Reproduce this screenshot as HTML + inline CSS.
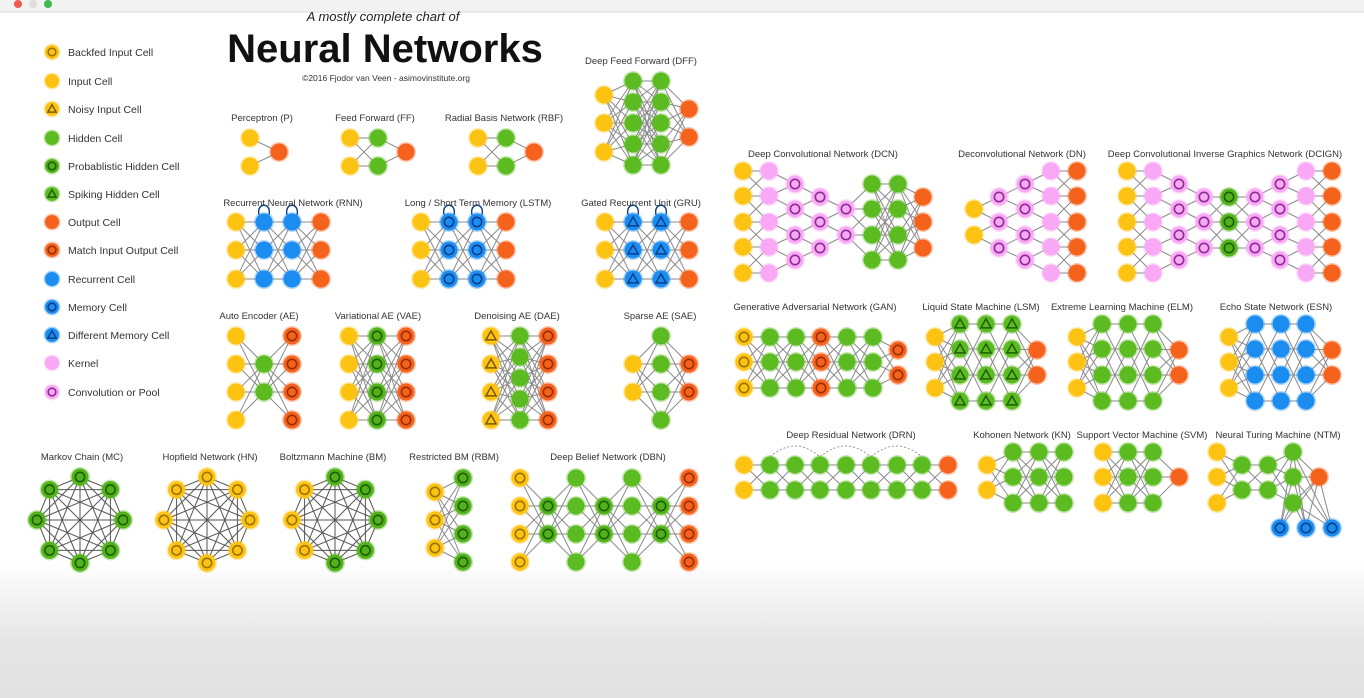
<!DOCTYPE html>
<html><head><meta charset="utf-8">
<style>
html,body{margin:0;padding:0;width:1364px;height:698px;overflow:hidden;background:#fff;font-family:"Liberation Sans",sans-serif;}
#bg{position:absolute;left:0;top:0;width:1364px;height:698px;background:linear-gradient(#fff 0,#fff 560px,#e6e6e6 640px,#e2e2e2 698px);}
svg{position:absolute;left:0;top:0;}
</style></head><body>
<div id="bg"></div>
<svg id="chart" width="1364" height="698">
<rect x="0" y="0" width="1364" height="12" fill="#f2f2f2"/>
<line x1="0" y1="12" x2="1364" y2="12" stroke="#d8d8d8"/>
<circle cx="18" cy="4" r="4" fill="#ee5a52"/>
<circle cx="33" cy="4" r="4" fill="#ddd"/>
<circle cx="48" cy="4" r="4" fill="#3fb94f"/>
<text x="383" y="21" text-anchor="middle" font-size="13" font-style="italic" fill="#222">A mostly complete chart of</text>
<text x="385" y="62" text-anchor="middle" font-size="40" font-weight="bold" fill="#111">Neural Networks</text>
<text x="386" y="81" text-anchor="middle" font-size="8.5" fill="#333">©2016 Fjodor van Veen - asimovinstitute.org</text>
<g id="edges"></g><g id="nodes"></g><g id="labels"></g>
</svg>
<script>
// legend data
const legendTypes = ['bin','in','nin','hid','phid','shid','out','mout','rec','mem','dmem','ker','conv'];
const legendNames = ['Backfed Input Cell','Input Cell','Noisy Input Cell','Hidden Cell','Probablistic Hidden Cell','Spiking Hidden Cell','Output Cell','Match Input Output Cell','Recurrent Cell','Memory Cell','Different Memory Cell','Kernel','Convolution or Pool'];
const legendYs = [52,81,109,138,166,194,222,250,279,307,335,363,392];

// networks: name, label position, layers [x, cellType, ys]
const networks = [
 {n:'Perceptron (P)',lx:262,ly:121,L:[[250,'in',[138,166]],[279,'out',[152]]]},
 {n:'Feed Forward (FF)',lx:375,ly:121,L:[[350,'in',[138,166]],[378,'hid',[138,166]],[406,'out',[152]]]},
 {n:'Radial Basis Network (RBF)',lx:504,ly:121,L:[[478,'in',[138,166]],[506,'hid',[138,166]],[534,'out',[152]]]},
 {n:'Deep Feed Forward (DFF)',lx:641,ly:64,L:[[604,'in',[95,123,152]],[633,'hid',[81,102,123,144,165]],[661,'hid',[81,102,123,144,165]],[689,'out',[109,137]]]},
 {n:'Recurrent Neural Network (RNN)',lx:293,ly:206,loop:1,L:[[236,'in',[222,250,279]],[264,'rec',[222,250,279]],[292,'rec',[222,250,279]],[321,'out',[222,250,279]]]},
 {n:'Long / Short Term Memory (LSTM)',lx:478,ly:206,loop:1,L:[[421,'in',[222,250,279]],[449,'mem',[222,250,279]],[477,'mem',[222,250,279]],[506,'out',[222,250,279]]]},
 {n:'Gated Recurrent Unit (GRU)',lx:641,ly:206,loop:1,L:[[605,'in',[222,250,279]],[633,'dmem',[222,250,279]],[661,'dmem',[222,250,279]],[689,'out',[222,250,279]]]},
 {n:'Auto Encoder (AE)',lx:259,ly:319,L:[[236,'in',[336,364,392,420]],[264,'hid',[364,392]],[292,'mout',[336,364,392,420]]]},
 {n:'Variational AE (VAE)',lx:378,ly:319,L:[[349,'in',[336,364,392,420]],[377,'phid',[336,364,392,420]],[406,'mout',[336,364,392,420]]]},
 {n:'Denoising AE (DAE)',lx:517,ly:319,L:[[491,'nin',[336,364,392,420]],[520,'hid',[336,357,378,399,420]],[548,'mout',[336,364,392,420]]]},
 {n:'Sparse AE (SAE)',lx:660,ly:319,L:[[633,'in',[364,392]],[661,'hid',[336,364,392,420]],[689,'mout',[364,392]]]},
 {n:'Restricted BM (RBM)',lx:454,ly:460,L:[[435,'bin',[492,520,548]],[463,'phid',[478,506,534,562]]]},
 {n:'Deep Belief Network (DBN)',lx:608,ly:460,L:[[520,'bin',[478,506,534,562]],[548,'phid',[506,534]],[576,'hid',[478,506,534,562]],[604,'phid',[506,534]],[632,'hid',[478,506,534,562]],[661,'phid',[506,534]],[689,'mout',[478,506,534,562]]]},
 {n:'Deep Convolutional Network (DCN)',lx:823,ly:157,L:[[743,'in',[171,196,222,247,273]],[769,'ker',[171,196,222,247,273]],[795,'conv',[184,209,235,260]],[820,'conv',[197,222,248]],[846,'conv',[209,235]],[872,'hid',[184,209,235,260]],[898,'hid',[184,209,235,260]],[923,'out',[197,222,248]]]},
 {n:'Deconvolutional Network (DN)',lx:1022,ly:157,L:[[974,'in',[209,235]],[999,'conv',[197,222,248]],[1025,'conv',[184,209,235,260]],[1051,'ker',[171,196,222,247,273]],[1077,'out',[171,196,222,247,273]]]},
 {n:'Deep Convolutional Inverse Graphics Network (DCIGN)',lx:1225,ly:157,L:[[1127,'in',[171,196,222,247,273]],[1153,'ker',[171,196,222,247,273]],[1179,'conv',[184,209,235,260]],[1204,'conv',[197,222,248]],[1229,'phid',[197,222,248]],[1255,'conv',[197,222,248]],[1280,'conv',[184,209,235,260]],[1306,'ker',[171,196,222,247,273]],[1332,'out',[171,196,222,247,273]]]},
 {n:'Generative Adversarial Network (GAN)',lx:815,ly:310,L:[[744,'bin',[337,362,388]],[770,'hid',[337,362,388]],[796,'hid',[337,362,388]],[821,'mout',[337,362,388]],[847,'hid',[337,362,388]],[873,'hid',[337,362,388]],[898,'mout',[350,375]]]},
 {n:'Liquid State Machine (LSM)',lx:981,ly:310,sparse:1,L:[[935,'in',[337,362,388]],[960,'shid',[324,349,375,401]],[986,'shid',[324,349,375,401]],[1012,'shid',[324,349,375,401]],[1037,'out',[350,375]]]},
 {n:'Extreme Learning Machine (ELM)',lx:1122,ly:310,sparse:1,L:[[1077,'in',[337,362,388]],[1102,'hid',[324,349,375,401]],[1128,'hid',[324,349,375,401]],[1153,'hid',[324,349,375,401]],[1179,'out',[350,375]]]},
 {n:'Echo State Network (ESN)',lx:1276,ly:310,sparse:1,L:[[1229,'in',[337,362,388]],[1255,'rec',[324,349,375,401]],[1281,'rec',[324,349,375,401]],[1306,'rec',[324,349,375,401]],[1332,'out',[350,375]]]},
 {n:'Deep Residual Network (DRN)',lx:851,ly:438,res:1,L:[[744,'in',[465,490]],[770,'hid',[465,490]],[795,'hid',[465,490]],[820,'hid',[465,490]],[846,'hid',[465,490]],[871,'hid',[465,490]],[897,'hid',[465,490]],[922,'hid',[465,490]],[948,'out',[465,490]]]},
 {n:'Kohonen Network (KN)',lx:1022,ly:438,L:[[987,'in',[465,490]],[1013,'hid',[452,477,503]],[1039,'hid',[452,477,503]],[1064,'hid',[452,477,503]]]},
 {n:'Support Vector Machine (SVM)',lx:1142,ly:438,L:[[1103,'in',[452,477,503]],[1128,'hid',[452,477,503]],[1153,'hid',[452,477,503]],[1179,'out',[477]]]},
 {n:'Neural Turing Machine (NTM)',lx:1278,ly:438,L:[[1217,'in',[452,477,503]],[1242,'hid',[465,490]],[1268,'hid',[465,490]],[1293,'hid',[452,477,503]],[1319,'out',[477]]]}
];
// ring networks: name, label, center, cell types around (starting at top, clockwise)
const rings = [
 {n:'Markov Chain (MC)',lx:82,ly:460,cx:80,cy:520,t:['phid','phid','phid','phid','phid','phid','phid','phid']},
 {n:'Hopfield Network (HN)',lx:210,ly:460,cx:207,cy:520,t:['bin','bin','bin','bin','bin','bin','bin','bin']},
 {n:'Boltzmann Machine (BM)',lx:333,ly:460,cx:335,cy:520,t:['phid','phid','phid','phid','phid','bin','bin','bin']}
];
const ntmMemX = [1280,1306,1332];

const NS='http://www.w3.org/2000/svg';
const E=document.getElementById('edges'),N=document.getElementById('nodes'),T=document.getElementById('labels');
const COL={in:'#fdc313',bin:'#fdc313',nin:'#fdc313',hid:'#5cbb20',phid:'#52b21a',shid:'#5cbb20',out:'#f4621c',mout:'#f4621c',rec:'#1b8df0',mem:'#1b8df0',dmem:'#1b8df0',ker:'#f8a8f4',conv:'#f8a8f4'};
const RING={bin:'#9a7400',phid:'#1f5e08',mout:'#9b2e00',mem:'#0a3f8a',conv:'#8a2c94'};
const TRI={nin:'#7a5a00',shid:'#1f5e08',dmem:'#0a3f8a'};
function mk(tag,at,parent){const e=document.createElementNS(NS,tag);for(const k in at)e.setAttribute(k,at[k]);parent.appendChild(e);return e;}
function edge(x1,y1,x2,y2,c){const l=mk('line',{x1:x1,y1:y1,x2:x2,y2:y2,stroke:c||'#8a8a8a','stroke-width':1},E);

}
function node(x,y,t,r){r=r||8.5;const g=mk('g',{},N);


mk('circle',{cx:x,cy:y,r:r+1.5,fill:COL[t],opacity:0.35},g);
mk('circle',{cx:x,cy:y,r:r,fill:COL[t]},g);
if(RING[t])mk('circle',{cx:x,cy:y,r:r*0.55,fill:'none',stroke:RING[t],'stroke-width':1.6},g);
if(TRI[t]){const s=r*0.6;mk('polygon',{points:`${x},${y-s} ${x+s},${y+s*0.75} ${x-s},${y+s*0.75}`,fill:'none',stroke:TRI[t],'stroke-width':1.5},g);}
}
function label(x,y,s,name){const t=mk('text',{x:x,y:y,'text-anchor':'middle','font-size':9.5,fill:'#333'},T);t.textContent=s;

}

// legend
legendTypes.forEach((t,i)=>{node(52,legendYs[i],t,7);
const tx=mk('text',{x:68,y:legendYs[i]+4,'font-size':10.5,fill:'#333'},T);tx.textContent=legendNames[i];

});

networks.forEach(nw=>{
 label(nw.lx,nw.ly,nw.n,'network-label');
 const L=nw.L;
 for(let i=0;i<L.length-1;i++){
  const a=L[i],b=L[i+1];
  const local=['ker','conv'].includes(a[1])||['ker','conv'].includes(b[1]);
  a[2].forEach((y1,j)=>b[2].forEach((y2,k)=>{
   if(local&&Math.abs(y1-y2)>30)return;
   if(nw.sparse&&i>0&&i<L.length-2&&((j+k)%2===1))return;
   if(nw.res&&Math.abs(y1-y2)>30)return;
   edge(a[0],y1,b[0],y2);
  }));
 }
 if(nw.res){for(let i=1;i+2<L.length;i+=2){const x1=L[i][0],x2=L[i+2][0],y=L[i][2][0];
  const p=mk('path',{d:`M${x1},${y-8} Q${(x1+x2)/2},${y-30} ${x2},${y-8}`,fill:'none',stroke:'#999','stroke-dasharray':'2,2'},E);
  
  }}
 if(nw.n.indexOf('NTM')>=0){const h=L[3];ntmMemX.forEach(mx=>{h[2].forEach(y=>edge(h[0],y,mx,528));edge(L[4][0],477,mx,528);});}
 if(nw.loop){[L[1],L[2]].forEach(l=>{const p=mk('path',{d:`M${l[0]-5},${l[2][0]-7} C${l[0]-8},${l[2][0]-20} ${l[0]+8},${l[2][0]-20} ${l[0]+5},${l[2][0]-7}`,fill:'none',stroke:'#0a3f8a','stroke-width':1.4},E);
  
  });}
 L.forEach(l=>l[2].forEach(y=>node(l[0],y,l[1])));
 if(nw.n.indexOf('NTM')>=0)ntmMemX.forEach(mx=>node(mx,528,'mem'));
});

rings.forEach(rg=>{
 label(rg.lx,rg.ly,rg.n,'network-label');
 const pts=rg.t.map((t,i)=>{const a=i*Math.PI/4;return [rg.cx+43*Math.sin(a),rg.cy-43*Math.cos(a)];});
 for(let i=0;i<8;i++)for(let j=i+1;j<8;j++)edge(pts[i][0],pts[i][1],pts[j][0],pts[j][1],'#555');
 pts.forEach((p,i)=>node(p[0],p[1],rg.t[i]));
});
</script>
</body></html>
